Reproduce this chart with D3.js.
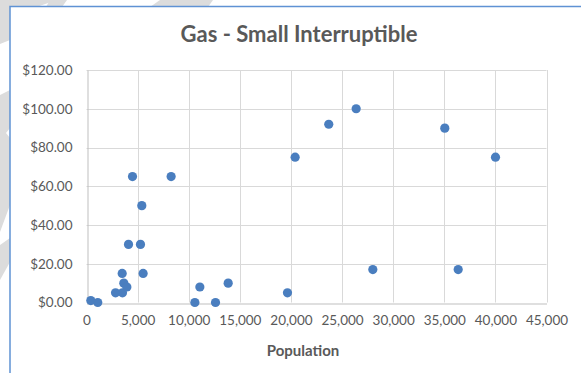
<!DOCTYPE html>
<html>
<head>
<meta charset="utf-8">
<script src="https://cdn.jsdelivr.net/npm/d3@7"></script>
<style>
  body { margin: 0; background: #fff; }
  svg { display: block; font-family: Lato, "Open Sans", sans-serif; }
</style>
</head>
<body>
<svg id="chart" width="581" height="373"></svg>
<script>
// values
const population = [420, 1100, 2840, 3520, 3490, 3650, 3950, 4110, 4500, 5280, 5410, 5540,
    8280, 10600, 11090, 12620, 13860, 19660, 20410, 23700, 26380, 28010, 35050, 36360, 40010];
const price = [1, 0, 5, 5, 15, 10, 8, 30, 65, 30, 50, 15,
    65, 0, 8, 0, 10, 5, 75, 92, 100, 17, 90, 17, 75];
const xTicks = [0, 5000, 10000, 15000, 20000, 25000, 30000, 35000, 40000, 45000];
const yTicks = [0, 20, 40, 60, 80, 100, 120];
const chartTitle = "Gas - Small Interruptible";
const xTitle = "Population";

let svg = d3.select('svg#chart'),
    margin = {top: 70, right: 34.5, bottom: 70.5, left: 86.5},
    width = +svg.attr("width"),
    height = +svg.attr("height");

// background watermark bands (outside the chart frame)
let wm = svg.append('g').attr('fill', '#dcdcdc');
[
    [[0, 0], [57, 0], [10, 16], [10, 40], [0, 44]],
    [[50, 0], [67, 0], [62, 7], [46, 7]],
    [[160, 0], [213, 0], [208, 7], [150, 7]],
    [[0, 95], [10, 90], [10, 128], [6, 133], [10, 138], [10, 205], [0, 232]],
    [[0, 245], [10, 238], [10, 262], [0, 280]]
].forEach(function (p) {
    wm.append('polygon').attr('points', p.map(function (d) { return d.join(','); }).join(' '));
});

// chart area
svg.append('rect')
    .attr('x', 10).attr('y', 6.5)
    .attr('width', width).attr('height', height)
    .attr('fill', '#fff')
    .attr('stroke', '#5f92d4')
    .attr('stroke-width', 1.5);

let xScale = d3.scaleLinear()
    .domain([0, 45000])
    .range([margin.left, width - margin.right]);
let yScale = d3.scaleLinear()
    .domain([0, 120])
    .range([height - margin.bottom, margin.top]);

// gridlines
let grid = svg.append('g').attr('stroke', '#d9d9d9').attr('stroke-width', 1);
grid.selectAll('line.v')
    .data(xTicks.slice(1))
    .enter().append('line')
    .attr('class', 'v')
    .attr('x1', function (d) { return Math.round(xScale(d)) + 0.5; })
    .attr('x2', function (d) { return Math.round(xScale(d)) + 0.5; })
    .attr('y1', yScale(120)).attr('y2', yScale(0));
grid.selectAll('line.h')
    .data(yTicks.slice(1))
    .enter().append('line')
    .attr('class', 'h')
    .attr('y1', function (d) { return Math.round(yScale(d)) + 0.5; })
    .attr('y2', function (d) { return Math.round(yScale(d)) + 0.5; })
    .attr('x1', xScale(0)).attr('x2', xScale(45000));

// axes
let xAxis = d3.axisBottom(xScale)
    .tickValues(xTicks)
    .tickFormat(d3.format(",.0f"))
    .tickSize(0).tickPadding(12);
let yAxis = d3.axisLeft(yScale)
    .tickValues(yTicks)
    .tickFormat(function (d) { return "$" + d3.format(".2f")(d); })
    .tickSize(0).tickPadding(15);

let gx = svg.append('g')
    .attr('transform', 'translate(0,' + (Math.round(yScale(0)) + 0.5) + ')')
    .call(xAxis);
let gy = svg.append('g')
    .attr('transform', 'translate(' + (Math.round(xScale(0)) + 0.5) + ',0)')
    .call(yAxis);
[gx, gy].forEach(function (g) {
    g.select('.domain').attr('stroke', '#bfbfbf');
    g.selectAll('text')
        .attr('fill', '#595959')
        .style('font-size', '13.5px')
        .style('font-family', 'Lato, sans-serif');
});

// points
svg.append('g').selectAll('circle')
    .data(population)
    .enter().append('circle')
    .attr('cx', function (d) { return xScale(d); })
    .attr('cy', function (d, i) { return yScale(price[i]); })
    .attr('r', 4.6)
    .attr('fill', '#4a7ebf');

// titles
svg.append('text')
    .attr('x', 299).attr('y', 42)
    .attr('text-anchor', 'middle')
    .attr('fill', '#595959')
    .style('font-size', '22px').style('font-weight', 'bold')
    .text(chartTitle);
svg.append('text')
    .attr('x', 303).attr('y', 356)
    .attr('text-anchor', 'middle')
    .attr('fill', '#595959')
    .style('font-size', '15px').style('font-weight', 'bold')
    .text(xTitle);
</script>
</body>
</html>
